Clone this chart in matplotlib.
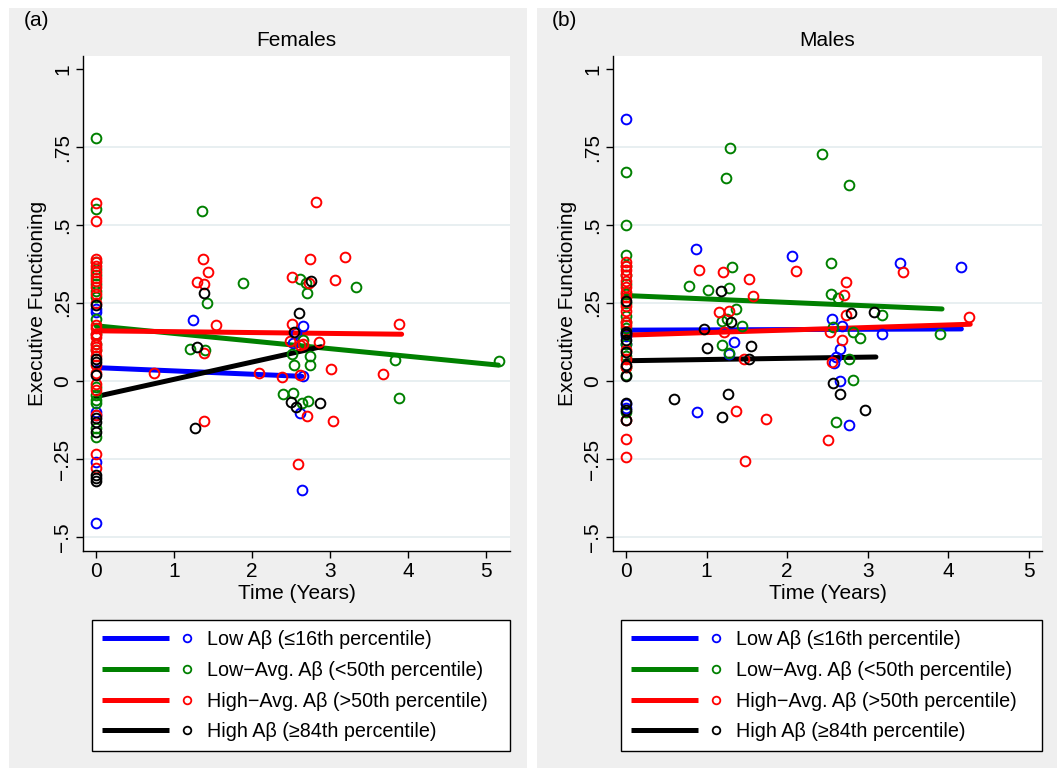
import matplotlib
matplotlib.use('Agg')
import matplotlib.pyplot as plt
from matplotlib.lines import Line2D
from matplotlib.legend_handler import HandlerBase
from matplotlib.patches import Rectangle

plt.rcParams['font.family'] = ['Liberation Sans', 'DejaVu Sans']

# group labels and colours (legend order)
groups = ['Low Aβ (≤16th percentile)', 'Low−Avg. Aβ (<50th percentile)',
          'High−Avg. Aβ (>50th percentile)', 'High Aβ (≥84th percentile)']
colors = ['#0000ff', '#008000', '#ff0000', '#000000']

# ---- Females: time (years) and executive functioning per group
f_low_t = [0, 0, 0, 0, 0, 0, 1.25, 2.65, 2.57, 2.53, 2.65, 2.62, 2.64]
f_low_ef = [0.23, 0.22, -0.10, -0.11, -0.26, -0.456, 0.196, 0.176, 0.155, 0.123, 0.017, -0.103, -0.35]

f_lavg_t = [0, 0, 0, 0, 0, 0, 0, 0, 0, 0, 0, 0, 0, 0, 0, 0, 0, 0,
            1.36, 1.88, 2.62, 2.69, 3.33, 2.70, 1.42, 1.21, 1.40, 2.66, 2.52, 2.74, 2.54,
            2.74, 3.84, 5.17, 2.40, 2.53, 2.64, 2.72, 3.88]
f_lavg_ef = [0.778, 0.553, 0.38, 0.36, 0.34, 0.31, 0.29, 0.27, 0.20, 0.15, 0.12, 0.10,
             -0.02, -0.045, -0.06, -0.07, -0.15, -0.18,
             0.545, 0.313, 0.328, 0.314, 0.303, 0.283, 0.249, 0.103, 0.099, 0.131, 0.087, 0.081, 0.05,
             0.05, 0.068, 0.063, -0.043, -0.037, -0.069, -0.064, -0.056]

f_havg_t = [0, 0, 0, 0, 0, 0, 0, 0, 0, 0, 0, 0, 0, 0, 0, 0, 0, 0, 0, 0, 0, 0, 0, 0, 0, 0,
            2.82, 1.37, 2.75, 3.2, 1.44, 1.29, 1.39, 2.52, 2.73, 3.06, 1.54, 2.51, 2.49, 2.61,
            2.66, 2.86, 1.38, 3.02, 0.74, 2.09, 2.39, 2.61, 3.68, 3.89, 2.70, 3.04, 1.38, 2.59]
f_havg_ef = [0.572, 0.514, 0.39, 0.38, 0.37, 0.35, 0.33, 0.32, 0.30, 0.28, 0.25, 0.18, 0.17,
             0.15, 0.14, 0.12, 0.11, 0.10, 0.08, 0.05, 0.025, -0.01, -0.03, -0.11, -0.235, -0.28,
             0.575, 0.391, 0.391, 0.398, 0.348, 0.319, 0.312, 0.333, 0.314, 0.325, 0.179, 0.182,
             0.128, 0.115, 0.119, 0.124, 0.089, 0.037, 0.025, 0.025, 0.012, 0.019, 0.022, 0.183,
             -0.112, -0.127, -0.127, -0.267]

f_high_t = [0, 0, 0, 0, 0, 0, 0, 0, 0, 0, 1.39, 1.29, 1.27, 2.60, 2.54, 2.76, 2.50, 2.57, 2.87]
f_high_ef = [0.245, 0.07, 0.06, 0.02, -0.12, -0.13, -0.165, -0.30, -0.31, -0.32,
             0.283, 0.108, -0.152, 0.217, 0.158, 0.322, -0.066, -0.082, -0.069]

# fitted lines (start at time 0): end time, value at 0, value at end
f_fit_end_t = [2.64, 5.16, 3.92, 2.89]
f_fit_y0 = [0.043, 0.177, 0.161, -0.05]
f_fit_y1 = [0.015, 0.051, 0.150, 0.11]

# ---- Males
m_low_t = [0, 0, 0, 0, 0, 0, 0.87, 2.06, 3.40, 4.15, 1.34, 1.28, 2.56, 2.68, 3.18,
           2.66, 2.61, 2.58, 2.65, 0.88, 2.77]
m_low_ef = [0.84, 0.155, 0.145, 0.12, -0.075, -0.085, 0.422, 0.401, 0.379, 0.366, 0.126,
            0.085, 0.20, 0.176, 0.151, 0.103, 0.078, 0.057, -0.001, -0.099, -0.14]

m_lavg_t = [0, 0, 0, 0, 0, 0, 0, 0, 0, 0, 0, 0, 0, 0, 0, 0,
            1.29, 1.24, 2.43, 2.76, 2.54, 1.31, 0.78, 1.02, 1.28, 2.54, 2.63, 1.37, 1.19,
            1.44, 1.19, 1.28, 2.57, 3.17, 3.90, 2.82, 2.90, 2.77, 2.82, 2.61, 1.25]
m_lavg_ef = [0.67, 0.50, 0.405, 0.37, 0.34, 0.31, 0.28, 0.25, 0.21, 0.19, 0.17, 0.12,
             0.08, 0.045, 0.02, -0.10,
             0.746, 0.652, 0.729, 0.627, 0.379, 0.366, 0.305, 0.293, 0.298, 0.28, 0.265, 0.232,
             0.192, 0.176, 0.115, 0.09, 0.172, 0.212, 0.15, 0.158, 0.137, 0.071, 0.004, -0.132, 0.20]

m_havg_t = [0, 0, 0, 0, 0, 0, 0, 0, 0, 0, 0, 0, 0, 0, 0, 0, 0, 0,
            0.90, 1.20, 1.53, 2.11, 3.43, 2.73, 2.71, 1.57, 1.15, 1.28, 1.22, 1.46, 2.73,
            4.25, 2.53, 2.68, 2.55, 1.37, 1.74, 2.50, 1.48]
m_havg_ef = [0.38, 0.37, 0.355, 0.34, 0.32, 0.30, 0.285, 0.27, 0.24, 0.225, 0.19, 0.18,
             0.10, 0.07, 0.046, -0.125, -0.187, -0.245,
             0.356, 0.351, 0.327, 0.352, 0.348, 0.316, 0.277, 0.271, 0.222, 0.224, 0.156,
             0.072, 0.212, 0.206, 0.156, 0.131, 0.062, -0.097, -0.121, -0.19, -0.256]

m_high_t = [0, 0, 0, 0, 0, 0, 0, 0, 0, 0, 1.18, 1.30, 0.97, 1.00, 1.55, 1.53, 2.79,
            3.08, 2.57, 2.66, 0.60, 1.26, 1.19, 2.96]
m_high_ef = [0.256, 0.158, 0.15, 0.13, 0.094, 0.05, 0.016, -0.072, -0.093, -0.126,
             0.289, 0.19, 0.166, 0.106, 0.112, 0.071, 0.217, 0.22, -0.007, -0.043,
             -0.059, -0.042, -0.114, -0.094]

m_fit_end_t = [4.16, 3.92, 4.27, 3.10]
m_fit_y0 = [0.163, 0.274, 0.147, 0.065]
m_fit_y1 = [0.167, 0.231, 0.182, 0.077]

yticks = [-0.5, -0.25, 0, 0.25, 0.5, 0.75, 1]
ytick_labels = ['−.5', '−.25', '0', '.25', '.5', '.75', '1']
xticks = [0, 1, 2, 3, 4, 5]


class LineDot(HandlerBase):
    # legend key: thick line followed by a small hollow circle
    def create_artists(self, legend, orig_handle, xdescent, ydescent,
                       width, height, fontsize, trans):
        c = orig_handle.get_color()
        y = height / 2 - ydescent
        x0 = -xdescent
        ln = Line2D([x0, x0 + 0.71 * width], [y, y], color=c, lw=3.6,
                    solid_capstyle='butt', transform=trans)
        dot = Line2D([x0 + 0.9 * width], [y], ls='none', marker='o', ms=5.5,
                     mfc='none', mec=c, mew=1.3, transform=trans)
        return [ln, dot]


W, H = 1057, 768
fig = plt.figure(figsize=(W / 100, H / 100), dpi=100)
fig.patch.set_facecolor('white')

panels = [
    dict(tag='(a)', title='Females', gray=(9, 527), ax=(83, 510), xlim=(-0.167, 5.31),
         legend=(92, 510),
         pts=[(f_low_t, f_low_ef), (f_lavg_t, f_lavg_ef), (f_havg_t, f_havg_ef), (f_high_t, f_high_ef)],
         fit=(f_fit_end_t, f_fit_y0, f_fit_y1)),
    dict(tag='(b)', title='Males', gray=(537, 1057), ax=(613, 1042), xlim=(-0.161, 5.16),
         legend=(621, 1042),
         pts=[(m_low_t, m_low_ef), (m_lavg_t, m_lavg_ef), (m_havg_t, m_havg_ef), (m_high_t, m_high_ef)],
         fit=(m_fit_end_t, m_fit_y0, m_fit_y1)),
]

for p in panels:
    g0, g1 = p['gray']
    fig.add_artist(Rectangle((g0 / W, 0), (g1 - g0) / W, 1 - 8 / H,
                             transform=fig.transFigure, facecolor='#efefef',
                             edgecolor='none', zorder=0))
    a0, a1 = p['ax']
    ax = fig.add_axes([a0 / W, 1 - 551 / H, (a1 - a0) / W, 495 / H])
    ax.set_facecolor('white')

    end_t, y0, y1 = p['fit']
    for i, c in enumerate(colors):
        ax.plot([0, end_t[i]], [y0[i], y1[i]], color=c, lw=3.6,
                solid_capstyle='round', zorder=2)
    for (t, ef), c in zip(p['pts'], colors):
        ax.plot(t, ef, ls='none', marker='o', ms=7, mfc='none', mec=c, mew=1.4, zorder=3)

    ax.set_xlim(*p['xlim'])
    ax.set_ylim(-0.545, 1.042)
    ax.set_xticks(xticks)
    ax.set_yticks(yticks)
    ax.set_yticklabels(ytick_labels, rotation=90, va='center')
    for lv in yticks[:-1]:
        ax.axhline(lv, color='#e6eef0', lw=1.3, zorder=1)
    for s in ['top', 'right']:
        ax.spines[s].set_visible(False)
    for s in ['left', 'bottom']:
        ax.spines[s].set_linewidth(1.0)
    ax.tick_params(direction='out', length=5, width=1, labelsize=15, pad=3)
    ax.set_title(p['title'], fontsize=15, pad=7.5)
    ax.set_xlabel('Time (Years)', fontsize=15, labelpad=2)
    ax.set_ylabel('Executive Functioning', fontsize=15, labelpad=4)

    fig.text((g0 + 15) / W, 1 - 21 / H, p['tag'], fontsize=15, va='center', ha='left')

    l0, l1 = p['legend']
    handles = [Line2D([], [], color=c) for c in colors]
    leg = fig.legend(handles, groups, loc='upper left',
                     bbox_to_anchor=(l0 / W, 1 - 749 / H, (l1 - l0) / W, (749 - 620) / H),
                     mode='expand', fontsize=14.2, handlelength=4.8, handletextpad=0.55,
                     labelspacing=0.6, borderpad=0.5, borderaxespad=0,
                     fancybox=False, framealpha=1, edgecolor='black',
                     handler_map={Line2D: LineDot()})
    leg.get_frame().set_linewidth(1.0)

fig.savefig('out.png', dpi=100, facecolor=fig.get_facecolor())
